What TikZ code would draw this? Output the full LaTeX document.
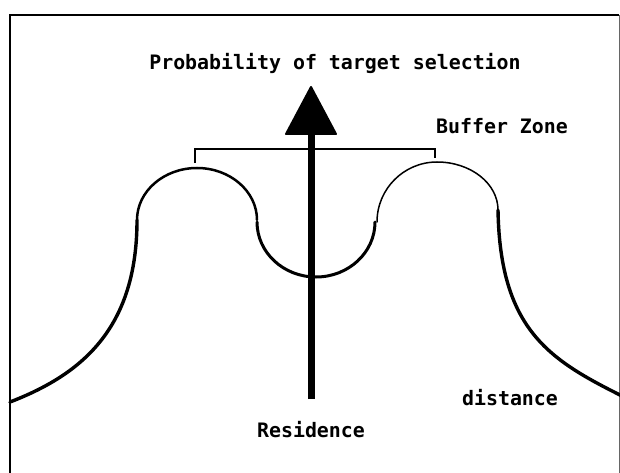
\documentclass[tikz,border=0pt]{standalone}
\usepackage{fontspec}
\setmonofont{DejaVu Sans Mono}
\begin{document}
\begin{tikzpicture}[x=1pt,y=-1pt,
  lbl/.style={font=\ttfamily\bfseries\fontsize{19.9}{24}\selectfont, inner sep=0pt, anchor=base},
  outer/.style={line width=3.4pt, line cap=round},
  humpA/.style={line width=2.5pt, line cap=round},
  humpB/.style={line width=1.5pt, line cap=round},
  valley/.style={line width=3pt, line cap=round},
  bracket/.style={line width=1.5pt},
  shaft/.style={line width=7pt},
  head/.style={fill=black, draw=black, line width=2pt, line join=round}]
\useasboundingbox (0,0) rectangle (620,473);
% frame
\draw[line width=2.8pt] (10,490) -- (10,15) -- (619,15);
\draw[line width=1pt, black!60] (619,15) -- (619,490);
% labels
\node[lbl] (title) at (335,70) {Probability of target selection};
\node[lbl] (buffer) at (502,134) {Buffer Zone};
\node[lbl] (dist) at (510,405) {distance};
\node[lbl] (res) at (311,437) {Residence};
% key points
\coordinate (L0) at (10,402);
\coordinate (L1) at (137,220);
\coordinate (LT) at (197,168);
\coordinate (L2) at (257,220);
\coordinate (V0) at (257,222);
\coordinate (VB) at (316,277);
\coordinate (V1) at (375,222);
\coordinate (R1) at (377,222);
\coordinate (RT) at (437,162);
\coordinate (R2) at (498,210);
\coordinate (R0) at (622,396);
% outer curves
\draw[outer] (L1) .. controls (137,330) and (80,375) .. (L0);
\draw[outer] (R2) .. controls (500,330) and (550,360) .. (R0);
% humps
\draw[humpA] (L1) .. controls (137,191.3) and (163.9,168) .. (LT)
             .. controls (230.1,168) and (257,191.3) .. (L2);
\draw[humpB] (R1) .. controls (377,188.9) and (403.9,162) .. (RT)
             .. controls (470.7,162) and (498,183.5) .. (R2);
% valley
\draw[valley] (V0) .. controls (257,252.4) and (283.4,277) .. (VB)
              .. controls (348.6,277) and (375,252.4) .. (V1);
% bracket
\coordinate (B1) at (195,163);
\coordinate (B2) at (435,158);
\draw[bracket] (B1) -- (195,149) -- (435,149) -- (B2);
% arrow
\coordinate (S0) at (311,399);
\coordinate (S1) at (311,128);
\coordinate (H0) at (311,87);
\coordinate (H1) at (286,134);
\coordinate (H2) at (336,134);
\draw[shaft] (S0) -- (S1);
\draw[head] (H0) -- (H1) -- (H2) -- cycle;
\end{tikzpicture}
\end{document}
